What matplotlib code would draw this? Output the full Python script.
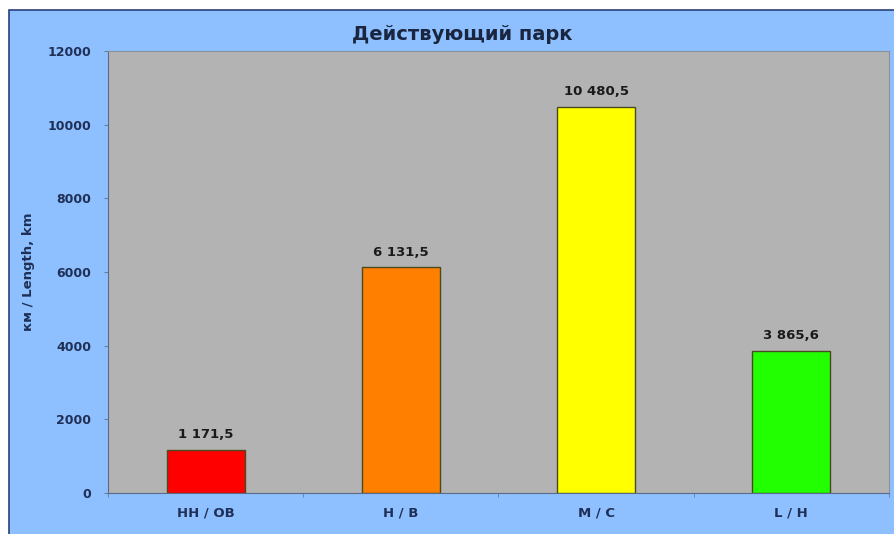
import matplotlib
matplotlib.use('Agg')
import matplotlib.pyplot as plt
from matplotlib.patches import Rectangle
import numpy as np

plt.rcParams['font.family'] = ['DejaVu Sans']

categories = ['HH / OB', 'H / B', 'M / C', 'L / H']
values = [1171.5, 6131.5, 10480.5, 3865.6]
value_labels = ['1 171,5', '6 131,5', '10 480,5', '3 865,6']
bar_colors = ['#FF0000', '#FF8000', '#FFFF00', '#22FF00']
y_ticks = [0, 2000, 4000, 6000, 8000, 10000, 12000]

navy = '#1F2F55'
fig = plt.figure(figsize=(8.95, 5.34), dpi=100)
fig.patch.set_facecolor('white')
# chart frame (light blue with dark border on top/left)
frame = Rectangle((9 / 895, -0.02), 1.1, (534 - 10) / 534 + 0.02,
                  transform=fig.transFigure, facecolor='#8EC0FF',
                  edgecolor='#2A3F7A', linewidth=1.2, zorder=-10)
fig.patches.append(frame)

ax = fig.add_axes([108 / 895, 41 / 534, 781 / 895, 442 / 534])
ax.set_zorder(2)
ax.set_facecolor('#B3B3B3')
x = np.arange(len(categories))
ax.bar(x, values, width=0.4, color=bar_colors, edgecolor='#4A4A20',
       linewidth=1.0, zorder=3)
for xi, v, lab in zip(x, values, value_labels):
    ax.text(xi, v + 230, lab, ha='center', va='bottom', fontsize=9.5,
            fontweight='bold', color='#1A1A1A')

ax.set_xlim(-0.5, len(categories) - 0.5)
ax.set_ylim(0, 12000)
ax.set_yticks(y_ticks)
ax.set_yticklabels([str(t) for t in y_ticks], fontsize=9,
                   fontweight='bold', color=navy)
ax.set_xticks(x)
ax.set_xticklabels(categories, fontsize=9.5, fontweight='bold', color=navy)
ax.set_xticks(np.arange(len(categories) + 1) - 0.5, minor=True)
ax.tick_params(axis='x', which='major', length=0, pad=10)
ax.tick_params(axis='x', which='minor', length=3, color='#6A7A9A')
ax.tick_params(axis='y', length=3, color='#6A7A9A', pad=9)
for side in ['top', 'right']:
    ax.spines[side].set_color('#8A8F9A')
for side in ['left', 'bottom']:
    ax.spines[side].set_color('#5A6A8A')

ax.set_ylabel('км / Length, km', fontsize=9.5, fontweight='bold',
              color=navy, labelpad=9)
fig.text(462 / 895, 1 - 34 / 534, 'Действующий парк', ha='center',
         va='center', fontsize=14, fontweight='bold', color='#1A2640')

plt.savefig('out.png', dpi=100, facecolor=fig.get_facecolor())
